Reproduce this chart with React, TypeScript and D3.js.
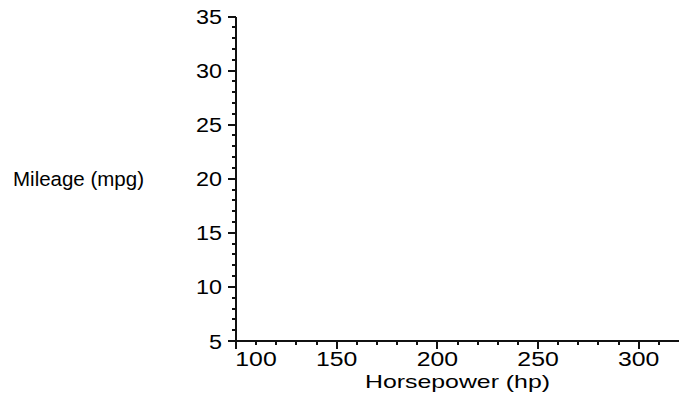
import React from "react";
import * as d3 from "d3";

const xDomain = [100, 320];
const yDomain = [5, 35];
const xMajorTicks = [100, 150, 200, 250, 300];
const yMajorTicks = [5, 10, 15, 20, 25, 30, 35];
const xMinorStep = 10;
const yMinorStep = 1;
const xTitle = "Horsepower (hp)";
const yTitle = "Mileage (mpg)";

export default function App() {
  const W = 689, H = 408;
  const x = d3.scaleLinear().domain(xDomain).range([236, 679]);
  const y = d3.scaleLinear().domain(yDomain).range([341, 16.5]);
  const xMinor = d3.range(xDomain[0], 311, xMinorStep).filter((v) => !xMajorTicks.includes(v));
  const yMinor = d3.range(yDomain[0], yDomain[1] + 0.5, yMinorStep).filter((v) => !yMajorTicks.includes(v));
  const x0 = x(xDomain[0]);
  const y0 = y(yDomain[0]);
  const font = "'Liberation Sans', Arial, sans-serif";
  const col = "#111";
  const major = 8, minor = 4;
  return (
    <div style={{ position: "absolute", left: 0, top: 0 }}>
      <svg width={W} height={H} style={{ display: "block", background: "#fff" }}>
        <g stroke={col} strokeWidth={2} shapeRendering="crispEdges">
          <line x1={x0} x2={x(xDomain[1])} y1={y0} y2={y0} />
          <line x1={x0} x2={x0} y1={y(yDomain[1])} y2={y0} />
          {xMajorTicks.map((v) => (
            <line key={"xM" + v} x1={x(v)} x2={x(v)} y1={y0} y2={y0 + major} />
          ))}
          {xMinor.map((v) => (
            <line key={"xm" + v} x1={x(v)} x2={x(v)} y1={y0} y2={y0 + minor} />
          ))}
          {yMajorTicks.map((v) => (
            <line key={"yM" + v} x1={x0 - major} x2={x0} y1={y(v)} y2={y(v)} />
          ))}
          {yMinor.map((v) => (
            <line key={"ym" + v} x1={x0 - minor} x2={x0} y1={y(v)} y2={y(v)} />
          ))}
        </g>
        <g fill="#000" fontFamily={font}>
          {xMajorTicks.map((v, i) => {
            const s = String(v);
            return (
              <text
                key={"xl" + v}
                x={x(v) + (i === 0 ? 20 : 0)}
                y={366}
                fontSize={20}
                textAnchor="middle"
                textLength={s.length * 13.8}
                lengthAdjust="spacingAndGlyphs"
              >
                {s}
              </text>
            );
          })}
          {yMajorTicks.map((v) => {
            const s = String(v);
            return (
              <text
                key={"yl" + v}
                x={222}
                y={y(v) + 7.5}
                fontSize={20.5}
                textAnchor="end"
                textLength={s.length * 13}
                lengthAdjust="spacingAndGlyphs"
              >
                {s}
              </text>
            );
          })}
          <text
            x={(x0 + x(xDomain[1])) / 2}
            y={387.5}
            fontSize={19}
            textAnchor="middle"
            textLength={185}
            lengthAdjust="spacingAndGlyphs"
          >
            {xTitle}
          </text>
          <text
            x={13}
            y={(y0 + y(yDomain[1])) / 2 + 7}
            fontSize={20.5}
            textLength={131}
            lengthAdjust="spacingAndGlyphs"
          >
            {yTitle}
          </text>
        </g>
      </svg>
    </div>
  );
}
